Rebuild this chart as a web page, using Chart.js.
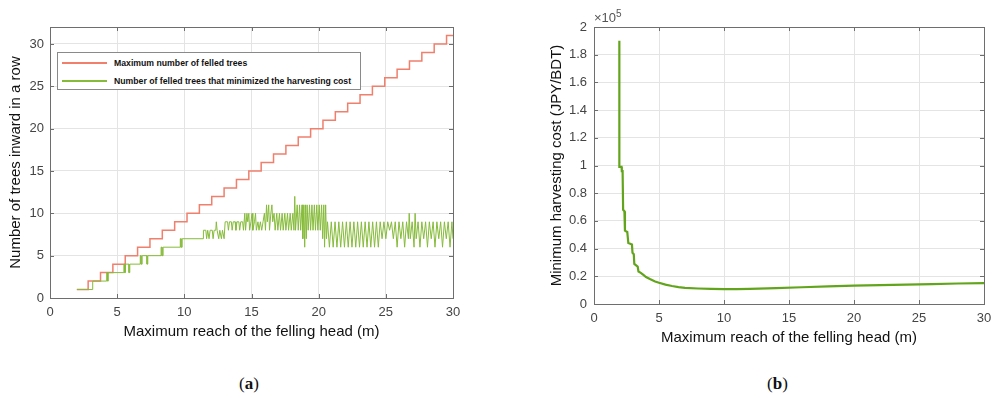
<!DOCTYPE html>
<html>
<head>
<meta charset="utf-8">
<script src="https://cdn.jsdelivr.net/npm/chart.js@4.4.1/dist/chart.umd.min.js"></script>
<style>
  html, body { margin:0; padding:0; background:#fff; }
  body { width:999px; height:398px; position:relative; overflow:hidden; font-family:"Liberation Sans", Arial, sans-serif; }
  .panel { position:absolute; top:0; }
  #legendA { position:absolute; left:57px; top:52px; width:302px; height:36px; border:1px solid #8a8a8a; background:#fff; }
  #legendA .row { position:absolute; left:0; height:12px; font-size:8.7px; font-weight:bold; color:#111; white-space:nowrap; }
  #legendA .swatch { position:absolute; left:4px; top:5px; width:45px; height:2px; }
  #legendA .txt { position:absolute; left:56px; top:0; line-height:12px; }
  #expo { position:absolute; left:594px; top:8px; font-size:13px; color:#555; }
  #expo sup { font-size:10px; }
  .tag { position:absolute; top:374px; font-family:"Liberation Serif", "DejaVu Serif", serif; font-size:17px; color:#111; }
</style>
</head>
<body>
<div class="panel" style="left:0;width:470px;height:345px"><canvas id="chartA" width="470" height="345"></canvas></div>
<div class="panel" style="left:540px;width:459px;height:355px"><canvas id="chartB" width="459" height="355"></canvas></div>
<div id="legendA"></div>
<div id="expo">&times;10<sup>5</sup></div>
<div class="tag" style="left:239px">(<b>a</b>)</div>
<div class="tag" style="left:767px">(<b>b</b>)</div>
<script>
// (a) maximum number of felled trees - x where each new count starts
const redX = [2.00, 2.84, 3.76, 4.68, 5.60, 6.52, 7.44, 8.36, 9.28, 10.20, 11.12, 12.04, 12.96, 13.88, 14.80, 15.72,
  16.64, 17.56, 18.48, 19.40, 20.32, 21.24, 22.16, 23.08, 24.00, 24.92, 25.84, 26.76, 27.68, 28.60, 29.52, 30.00];
const redY = [1, 2, 3, 4, 5, 6, 7, 8, 9, 10, 11, 12, 13, 14, 15, 16, 17, 18, 19, 20, 21, 22, 23, 24, 25, 26, 27, 28, 29, 30, 31, 31];

// (a) number of felled trees that minimized the harvesting cost
const greenX = [2.00, 3.18, 3.18, 4.22, 4.22, 4.28, 4.28, 4.34, 4.34, 5.50, 5.50, 5.56, 5.56, 5.62, 5.62, 5.88, 5.88, 5.94, 5.94,
  6.72, 6.72, 6.78, 6.78, 6.86, 6.86, 7.22, 7.22, 7.28, 7.28, 8.27, 8.27, 8.34, 8.34, 8.42, 8.42, 9.70, 9.70, 9.76, 9.76, 9.84, 9.84,
  11.42, 11.42, 11.60, 11.66, 11.74, 11.84, 11.92, 12.08, 12.14, 12.22, 12.34, 12.38, 12.44, 12.56, 12.64, 12.76, 12.84, 12.96, 13.04,
  13.22, 13.28, 13.36, 13.50, 13.56, 13.64, 13.78, 13.84, 13.92, 14.06, 14.12, 14.20, 14.34, 14.40,
  14.50, 14.56, 14.66, 14.72, 14.80, 14.86, 14.96, 15.04, 15.10, 15.22, 15.30, 15.36, 15.48, 15.56, 15.66, 15.76, 15.86, 15.96,
  16.04, 16.12, 16.18, 16.28, 16.34, 16.44, 16.52, 16.58, 16.68, 16.76, 16.88, 16.96, 17.08, 17.16, 17.28, 17.36, 17.48, 17.56,
  17.68, 17.76, 17.88, 17.96, 18.08, 18.16, 18.22, 18.28,
  18.40, 18.48, 18.58, 18.66, 18.76, 18.82, 18.90, 18.96, 19.02, 19.08, 19.14,
  19.22, 19.32, 19.40, 19.50, 19.58, 19.68, 19.76, 19.86, 19.94, 20.04, 20.12, 20.22, 20.30, 20.38, 20.44, 20.52, 20.58,
  20.66, 20.80, 20.94, 21.08, 21.22, 21.36, 21.50, 21.64, 21.78, 21.92, 22.06, 22.20, 22.34, 22.48, 22.62, 22.76, 22.90,
  23.04, 23.18, 23.32, 23.46, 23.60, 23.74, 23.88, 24.02, 24.16, 24.30, 24.44, 24.58,
  24.72, 24.86, 25.00, 25.14, 25.28, 25.42, 25.56, 25.70, 25.84, 25.98, 26.12, 26.26, 26.40, 26.54, 26.68, 26.74, 26.82, 26.96,
  27.10, 27.18, 27.26, 27.40, 27.54, 27.68, 27.82, 27.96, 28.10, 28.24, 28.38, 28.52, 28.66, 28.80, 28.94, 29.08, 29.22, 29.36,
  29.50, 29.64, 29.78, 29.92, 30.00];
const greenY = [1, 1, 2, 2, 3, 3, 2, 2, 3, 3, 4, 4, 3, 3, 4, 4, 3, 3, 4,
  4, 5, 5, 4, 4, 5, 5, 4, 4, 5, 5, 6, 6, 5, 5, 6, 6, 7, 7, 6, 6, 7,
  7, 8, 8, 7, 8, 7, 8, 8, 7, 8, 8, 9, 8, 7, 8, 7, 8, 7, 9,
  9, 8, 9, 9, 8, 9, 9, 8, 9, 9, 8, 9, 9, 8,
  10, 8, 10, 9, 10, 8, 9, 10, 8, 9, 10, 8, 9, 8, 9, 8, 9, 10,
  8, 11, 9, 11, 8, 10, 11, 9, 10, 8, 10, 8, 10, 8, 10, 8, 10, 8,
  10, 8, 10, 8, 10, 8, 12, 8,
  11, 8, 11, 8, 11, 7, 11, 6, 11, 7, 11,
  8, 11, 8, 11, 8, 11, 8, 11, 8, 11, 8, 11, 7, 11, 6, 11, 7,
  9, 6, 9, 6, 9, 6, 9, 6, 9, 6, 9, 6, 9, 6, 9, 6, 9,
  6, 9, 6, 9, 6, 9, 6, 9, 6, 9, 6, 9,
  7, 9, 7, 9, 8, 9, 7, 9, 6, 9, 7, 9, 6, 9, 7, 10, 7, 9,
  6, 10, 7, 9, 6, 9, 7, 9, 6, 9, 7, 9, 6, 9, 7, 9, 6, 9,
  7, 9, 6, 9, 7];

// (b) minimum harvesting cost (JPY/BDT)
const costX = [1.95, 1.95, 2.12, 2.14, 2.20, 2.24, 2.34, 2.38, 2.56, 2.64, 2.92, 2.96, 3.06, 3.10, 3.36, 3.42, 3.6, 3.8, 4.0,
  4.3, 4.7, 5.0, 5.5, 6.0, 6.5, 7.0, 8.0, 9.0, 10, 11, 12, 14, 16, 18, 20, 22, 24, 26, 28, 30];
const costY = [190000, 99000, 99000, 96000, 96000, 68000, 67000, 53000, 52000, 44000, 43000, 37000, 36000, 29000, 27000, 23500,
  22500, 21000, 19500, 18000, 16300, 15300, 14000, 13000, 12200, 11700, 11200, 10900, 10750, 10750, 10900, 11500, 12100,
  12700, 13200, 13600, 14000, 14400, 14800, 15100];

const labelsA = ['Maximum number of felled trees', 'Number of felled trees that minimized the harvesting cost'];
const xTitle = 'Maximum reach of the felling head (m)';

const pts = (xs, ys) => xs.map((x, i) => ({ x, y: ys[i] }));
const tickFont = { family: '"Liberation Sans", Arial, sans-serif', size: 13 };
const titleFont = { family: '"Liberation Sans", Arial, sans-serif', size: 15 };

// matlab style frame: full box + inward ticks on all four sides
const boxPlugin = {
  id: 'matlabBox',
  afterDraw(chart) {
    const { ctx, chartArea: a, scales } = chart;
    const tl = 4;
    ctx.save();
    ctx.strokeStyle = '#6e6e6e';
    ctx.lineWidth = 1;
    ctx.strokeRect(Math.round(a.left) + 0.5, Math.round(a.top) + 0.5, Math.round(a.right - a.left), Math.round(a.bottom - a.top));
    ctx.beginPath();
    scales.x.ticks.forEach(t => {
      const px = Math.round(scales.x.getPixelForValue(t.value)) + 0.5;
      ctx.moveTo(px, a.bottom); ctx.lineTo(px, a.bottom - tl);
      ctx.moveTo(px, a.top); ctx.lineTo(px, a.top + tl);
    });
    scales.y.ticks.forEach(t => {
      const py = Math.round(scales.y.getPixelForValue(t.value)) + 0.5;
      ctx.moveTo(a.left, py); ctx.lineTo(a.left + tl, py);
      ctx.moveTo(a.right, py); ctx.lineTo(a.right - tl, py);
    });
    ctx.stroke();
    ctx.restore();
  }
};

function axes({ yMax, yStep, yCb, yTitle, yPadTop, yWidth, yPad, xHeight, xPadBottom }) {
  return {
    x: {
      type: 'linear', min: 0, max: 30,
      ticks: { stepSize: 5, color: '#444', font: tickFont, padding: 7, maxRotation: 0 },
      grid: { color: '#e4e4e4', drawTicks: false },
      border: { display: false },
      title: { display: true, text: xTitle, color: '#111', font: titleFont, padding: { top: 0, bottom: xPadBottom } },
      afterFit: s => { s.height = xHeight; }
    },
    y: {
      type: 'linear', min: 0, max: yMax,
      ticks: { stepSize: yStep, color: '#444', font: tickFont, padding: yPad, includeBounds: false, callback: yCb },
      grid: { color: '#e4e4e4', drawTicks: false },
      border: { display: false },
      title: { display: true, text: yTitle, color: '#111', font: titleFont, padding: { top: yPadTop, bottom: 0 } },
      afterFit: s => { s.width = yWidth; }
    }
  };
}

const base = {
  responsive: false, animation: false,
  plugins: { legend: { display: false }, tooltip: { enabled: false } },
  elements: { point: { radius: 0 }, line: { tension: 0 } }
};

const chartA = new Chart(document.getElementById('chartA'), {
  type: 'line',
  data: {
    datasets: [
      { label: labelsA[0], data: pts(redX, redY), borderColor: '#f07f6c', borderWidth: 1.5, stepped: true, order: 1 },
      { label: labelsA[1], data: pts(greenX, greenY), borderColor: '#86bb3a', borderWidth: 1, order: 0 }
    ]
  },
  options: {
    ...base,
    layout: { padding: { top: 27, right: 17, left: 0, bottom: 0 } },
    scales: axes({ yMax: 32, yStep: 5, yCb: v => v, yTitle: 'Number of trees inward in a row',
      yPadTop: 7, yWidth: 50, yPad: 6, xHeight: 47, xPadBottom: 4 })
  },
  plugins: [boxPlugin]
});

new Chart(document.getElementById('chartB'), {
  type: 'line',
  data: {
    datasets: [
      { label: 'Minimum harvesting cost', data: pts(costX, costY), borderColor: '#62a51c', borderWidth: 2.2 }
    ]
  },
  options: {
    ...base,
    layout: { padding: { top: 27, right: 15, left: 0, bottom: 0 } },
    scales: axes({ yMax: 200000, yStep: 20000, yCb: v => String(Number((v / 1e5).toFixed(1))),
      yTitle: 'Minimum harvesting cost (JPY/BDT)', yPadTop: 8, yWidth: 54, yPad: 7, xHeight: 51, xPadBottom: 8 })
  },
  plugins: [boxPlugin]
});

// legend box for (a), built from the dataset labels and colours
const leg = document.getElementById('legendA');
chartA.data.datasets.forEach((ds, i) => {
  const row = document.createElement('div');
  row.className = 'row';
  row.style.top = (4 + i * 17.5) + 'px';
  row.innerHTML = `<span class="swatch" style="background:${ds.borderColor}"></span><span class="txt">${ds.label}</span>`;
  leg.appendChild(row);
});
</script>
</body>
</html>
